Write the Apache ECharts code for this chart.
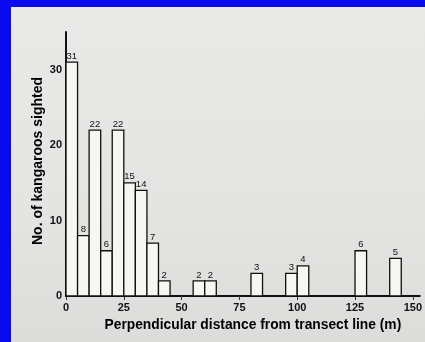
<!DOCTYPE html>
<html>
<head>
<meta charset="utf-8">
<script src="https://cdn.jsdelivr.net/npm/echarts@6/dist/echarts.min.js"></script>
<style>
  html, body { margin: 0; padding: 0; background: #0a0af0; }
  #page {
    position: absolute; left: 11px; top: 7px; width: 414px; height: 335px;
    background: linear-gradient(180deg, #e9e9e7 0%, #e4e4e2 60%, #dcdcda 100%);
  }
  #chart { position: absolute; left: 0; top: 0; width: 425px; height: 342px; }
</style>
</head>
<body>
<div id="page"></div>
<div id="chart"></div>
<script>
// 5 m distance classes (start of each class) and counts; empty classes left out
const binStarts = [0, 5, 10, 15, 20, 25, 30, 35, 40, 55, 60, 80, 95, 100, 125, 140];
const counts = [31, 8, 22, 6, 22, 15, 14, 7, 2, 2, 2, 3, 3, 4, 6, 5];
const binWidth = 5;
const xTicks = [0, 25, 50, 75, 100, 125, 150];
const yTicks = [0, 10, 20, 30];

const chart = echarts.init(document.getElementById('chart'));
const font = 'Liberation Sans, Arial, sans-serif';

chart.setOption({
  animation: false,
  grid: { left: 66, right: 1, top: 32, bottom: 46 },
  xAxis: {
    type: 'value',
    min: 0,
    max: 153,
    name: 'Perpendicular distance from transect line (m)',
    nameLocation: 'middle',
    nameGap: 22,
    nameTextStyle: { color: '#000', fontFamily: font, fontWeight: 'bold', fontSize: 13.8, padding: [0, 0, 0, 20] },
    axisLine: { lineStyle: { color: '#111', width: 2 } },
    axisTick: { customValues: xTicks, length: 4, lineStyle: { color: '#333', width: 1 } },
    axisLabel: { customValues: xTicks, color: '#111', fontFamily: font, fontWeight: 'bold', fontSize: 11, margin: 6 },
    splitLine: { show: false }
  },
  yAxis: {
    type: 'value',
    min: 0,
    max: 35,
    name: 'No. of kangaroos sighted',
    nameLocation: 'middle',
    nameRotate: 90,
    nameGap: 21,
    nameMoveOverlap: false,
    nameTextStyle: { color: '#000', fontFamily: font, fontWeight: 'bold', fontSize: 14, padding: [0, 0, 0, 6] },
    axisLine: { show: true, lineStyle: { color: '#111', width: 2 } },
    axisTick: { customValues: yTicks, inside: true, length: 5, lineStyle: { color: '#333', width: 1 } },
    axisLabel: { customValues: yTicks, color: '#111', fontFamily: font, fontWeight: 'bold', fontSize: 11, margin: 4 },
    splitLine: { show: false }
  },
  series: [{
    type: 'custom',
    data: binStarts.map((s, i) => [s, s + binWidth, counts[i]]),
    encode: { x: [0, 1], y: 2 },
    renderItem: function (params, api) {
      const p0 = api.coord([api.value(0), 0]);
      const p1 = api.coord([api.value(1), api.value(2)]);
      return {
        type: 'group',
        children: [{
          type: 'rect',
          shape: { x: p0[0], y: p1[1], width: p1[0] - p0[0], height: p0[1] - p1[1] },
          style: { fill: '#f6f6f2', stroke: '#111', lineWidth: 1.3 }
        }, {
          type: 'text',
          x: (p0[0] + p1[0]) / 2,
          y: p1[1] - 1,
          style: {
            text: String(api.value(2)), fill: '#111', fontFamily: font, fontSize: 9.5,
            align: 'center', verticalAlign: 'bottom'
          }
        }]
      };
    }
  }]
});
</script>
</body>
</html>
